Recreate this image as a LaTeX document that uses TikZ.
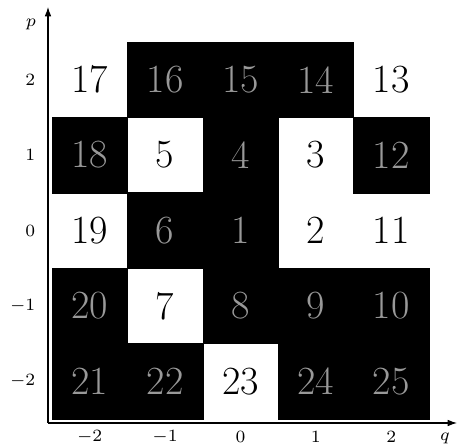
\documentclass[tikz,border=0pt]{standalone}
\usetikzlibrary{arrows.meta}
\begin{document}
\begin{tikzpicture}[x=0.75pt,y=-0.75pt,
  cellbase/.style={minimum size=56.6pt,inner sep=0pt,outer sep=0pt,font=\fontsize{30}{30}\selectfont},
  blk/.style={cellbase,fill=black,draw=black,line width=0.4pt,text=black!40},
  wht/.style={cellbase,text=black},
  ticklab/.style={font=\scriptsize,inner sep=0.5pt,scale=1.85},
  axis/.style={line width=0.8pt,-{Latex[length=7pt,width=5pt]}}]
\useasboundingbox (0,0) rectangle (458,448);
% cells: q, p, number, style
\foreach \q/\p/\n/\s in {
  -2/2/17/wht, -1/2/16/blk, 0/2/15/blk, 1/2/14/blk, 2/2/13/wht,
  -2/1/18/blk, -1/1/5/wht, 0/1/4/blk, 1/1/3/wht, 2/1/12/blk,
  -2/0/19/wht, -1/0/6/blk, 0/0/1/blk, 1/0/2/wht, 2/0/11/wht,
  -2/-1/20/blk, -1/-1/7/wht, 0/-1/8/blk, 1/-1/9/blk, 2/-1/10/blk,
  -2/-2/21/blk, -1/-2/22/blk, 0/-2/23/wht, 1/-2/24/blk, 2/-2/25/blk}{
  \node[\s] (c\n) at ({89.7+75.4*(\q+2)},{79.7+75.4*(2-\p)}) {\n};
}
% axes
\coordinate (O) at (48,423);
\coordinate (xend) at (457,423);
\coordinate (yend) at (48,7);
\draw[axis] (O) -- (xend);
\draw[axis] (O) -- (yend);
\node[ticklab] (plab) at (31,24) {$p$};
\node[ticklab] (qlab) at (445,438) {$q$};
% tick labels
\foreach \v/\nm in {-2/m2,-1/m1,0/z,1/o,2/t}{
  \node[ticklab,anchor=east] (py\nm) at (37,{79.7+75.4*(2-\v)}) {$\v$};
  \node[ticklab] (qx\nm) at ({89.7+75.4*(\v+2)},437) {$\v$};
}
\end{tikzpicture}
\end{document}
